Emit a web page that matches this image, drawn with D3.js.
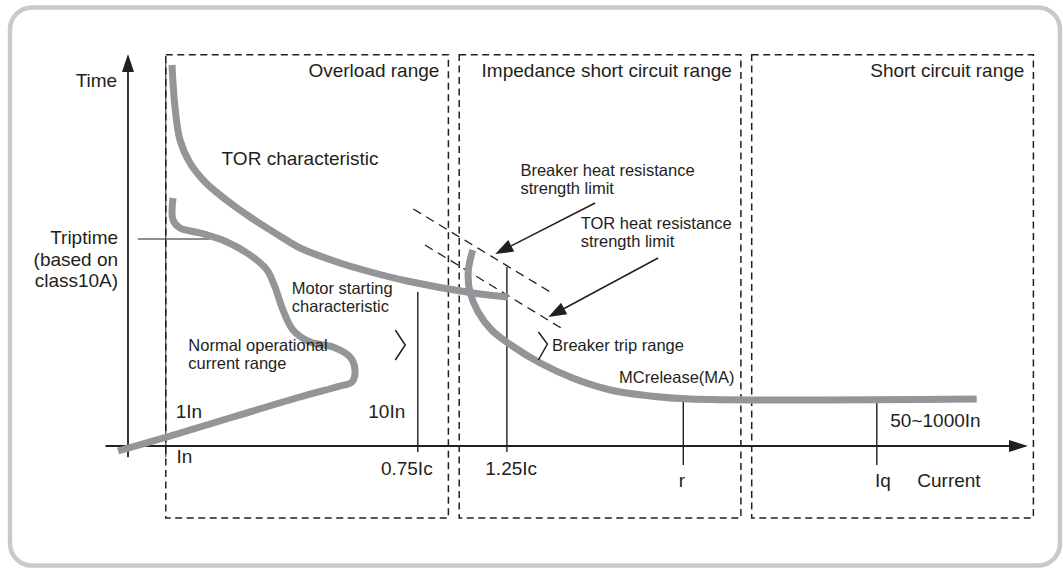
<!DOCTYPE html>
<html>
<head>
<meta charset="utf-8">
<title>TOR / breaker characteristic</title>
<script src="https://d3js.org/d3.v7.min.js"></script>
<style>
  body { margin: 0; background: #fff; }
  svg { display: block; font-family: "Liberation Sans", Arial, Helvetica, sans-serif; }
</style>
</head>
<body>
<div id="chart"></div>
<script>
// schematic units: current 0..100 along x, time 0..100 along y

const rangeNames = ["Overload range", "Impedance short circuit range", "Short circuit range"];
const rangeStart = [4.2, 36.8, 69.3];
const rangeEnd = [35.6, 68.1, 100.6];
const rangeTop = 97.8;
const rangeBottom = -18;

const tickNames = ["In", "0.75Ic", "1.25Ic", "r", "Iq"];
const tickAt = [4.2, 32.2, 42.1, 61.7, 83.2];
const tickTop = [96, 38.5, 44.75, 12.75, 11.75];
const tickBottom = [-2.8, -1.5, -1.5, -4.75, -4.75];

const tripTime = 51.75;
const tripTimeFrom = [1.1, 9.1];

const torCurve = [[4.89, 95.25], [5.22, 84.75], [5.78, 76.5], [6.89, 70.75], [8.56, 66], [10.78, 61.75],
  [13.56, 57.25], [17.22, 52], [19.11, 49.5], [23.22, 46], [26.56, 43.75], [31.0, 41.25],
  [38.33, 38.25], [42.22, 37.25]];
const motorCurve = [[5.0, 62], [5.0, 56.5], [5.78, 54.5], [8.0, 53.25], [11.0, 51], [13.56, 47.75],
  [15.44, 44], [16.33, 39.75], [17.22, 34], [18.33, 29], [20.22, 26], [22.78, 24.75],
  [24.67, 22.25], [25.22, 19], [24.89, 16], [23.56, 15], [19.11, 12.25], [11.67, 7.25],
  [4.33, 2.25], [-1.11, -1.25]];
const mcCurve = [[38.3, 49], [37.8, 43.5], [38.0, 38.5], [38.9, 33.5], [40.4, 29], [42.7, 25],
  [45.8, 20.75], [49.4, 17], [53.6, 14], [58.0, 12.5], [62.4, 11.75], [94.3, 11.75]];

const limitLines = [[[31.7, 59.25], [47.1, 38.25]], [[33.0, 50.25], [48.3, 29.25]]];
const limitArrows = [[[51.9, 60.75], [40.8, 48]], [[58.9, 47], [46.7, 32.25]]];
const chevrons = [[[29.7, 29], [30.8, 25.25], [29.7, 21.5]], [[45.6, 28.5], [46.6, 25.5], [45.6, 21.5]]];

const bigLabels = [
  ["Time", -1.2, 89.75, "end"],
  ["TOR characteristic", 10.4, 70.25, "start"],
  ["Triptime\n(based on\nclass10A)", -1.1, 50.5, "end"],
  ["1In", 5.3, 7, "start"],
  ["10In", 26.7, 7, "start"],
  ["In", 5.4, -4.25, "start"],
  ["0.75Ic", 28.1, -7.25, "start"],
  ["1.25Ic", 39.7, -7.25, "start"],
  ["r", 61.2, -10.25, "start"],
  ["Iq", 83, -10.25, "start"],
  ["Current", 87.7, -10.25, "start"],
  ["50~1000In", 84.7, 4.75, "start"]
];
const smallLabels = [
  ["Motor starting\ncharacteristic", 18.2, 38, "start"],
  ["Normal operational\ncurrent range", 6.7, 23.75, "start"],
  ["Breaker heat resistance\nstrength limit", 43.6, 67.5, "start"],
  ["TOR heat resistance\nstrength limit", 50.3, 54.25, "start"],
  ["Breaker trip range", 47.1, 23.75, "start"],
  ["MCrelease(MA)", 67.4, 15.75, "end"]
];

const W = 1063, H = 569;
const x = d3.scaleLinear().domain([0, 100]).range([128, 1028]);
const y = d3.scaleLinear().domain([0, 100]).range([446, 46]);
const ink = "#231f20";
const grey = "#939598";

const svg = d3.select("#chart").append("svg")
  .attr("width", W).attr("height", H);

// frame
svg.append("rect")
  .attr("x", 10).attr("y", 7.5).attr("width", 1050).attr("height", 558)
  .attr("rx", 22).attr("fill", "#fff")
  .attr("stroke", "#c9c9c9").attr("stroke-width", 4.5);

// range boxes
svg.selectAll("rect.range")
  .data(rangeNames)
  .join("rect")
    .attr("class", "range")
    .attr("x", (d, i) => x(rangeStart[i]))
    .attr("y", y(rangeTop))
    .attr("width", (d, i) => x(rangeEnd[i]) - x(rangeStart[i]))
    .attr("height", y(rangeBottom) - y(rangeTop))
    .attr("fill", "none").attr("stroke", ink)
    .attr("stroke-width", 1.5).attr("stroke-dasharray", "7,4.5");

svg.selectAll("text.range")
  .data(rangeNames)
  .join("text")
    .attr("class", "range")
    .attr("x", (d, i) => x(rangeEnd[i]) - 9)
    .attr("y", y(92.25))
    .attr("text-anchor", "end")
    .attr("font-size", 19).attr("fill", ink)
    .text(d => d);

// axes
svg.append("line")
  .attr("x1", x(0)).attr("x2", x(0)).attr("y1", y(-2.8)).attr("y2", y(95))
  .attr("stroke", ink).attr("stroke-width", 1.8);
svg.append("path")
  .attr("d", `M${x(0)},${y(98)}L${x(0) - 6},${y(98) + 18}L${x(0) + 6},${y(98) + 18}Z`)
  .attr("fill", ink);
svg.append("line")
  .attr("x1", x(-2.5)).attr("x2", x(98)).attr("y1", y(0)).attr("y2", y(0))
  .attr("stroke", ink).attr("stroke-width", 1.8);
svg.append("path")
  .attr("d", `M${x(100)},${y(0)}L${x(100) - 19},${y(0) - 6}L${x(100) - 19},${y(0) + 6}Z`)
  .attr("fill", ink);

// ticks
svg.selectAll("line.tick")
  .data(tickNames)
  .join("line")
    .attr("class", "tick")
    .attr("x1", (d, i) => x(tickAt[i])).attr("x2", (d, i) => x(tickAt[i]))
    .attr("y1", (d, i) => y(tickTop[i])).attr("y2", (d, i) => y(tickBottom[i]))
    .attr("stroke", ink).attr("stroke-width", (d, i) => i === 0 ? 1 : 1.4);

svg.append("line")
  .attr("x1", x(tripTimeFrom[0])).attr("x2", x(tripTimeFrom[1]))
  .attr("y1", y(tripTime)).attr("y2", y(tripTime))
  .attr("stroke", ink).attr("stroke-width", 1.2);

// heat resistance limits
svg.selectAll("line.limit")
  .data(limitLines)
  .join("line")
    .attr("class", "limit")
    .attr("x1", d => x(d[0][0])).attr("y1", d => y(d[0][1]))
    .attr("x2", d => x(d[1][0])).attr("y2", d => y(d[1][1]))
    .attr("stroke", ink).attr("stroke-width", 1.3).attr("stroke-dasharray", "9,6");

// grey characteristic curves
const line = d3.line()
  .x(d => x(d[0])).y(d => y(d[1]))
  .curve(d3.curveCatmullRom.alpha(0.5));

svg.selectAll("path.curve")
  .data([torCurve, motorCurve, mcCurve])
  .join("path")
    .attr("class", "curve")
    .attr("d", line)
    .attr("fill", "none").attr("stroke", grey)
    .attr("stroke-width", 7);

// annotation arrows
limitArrows.forEach(a => {
  const x1 = x(a[0][0]), y1 = y(a[0][1]), x2 = x(a[1][0]), y2 = y(a[1][1]);
  const ang = Math.atan2(y2 - y1, x2 - x1);
  const len = 18, hw = 6.5;
  const bx = x2 - len * Math.cos(ang), by = y2 - len * Math.sin(ang);
  svg.append("line")
    .attr("x1", x1).attr("y1", y1).attr("x2", bx).attr("y2", by)
    .attr("stroke", ink).attr("stroke-width", 1.5);
  svg.append("path")
    .attr("d", `M${x2},${y2}L${bx - hw * Math.sin(ang)},${by + hw * Math.cos(ang)}L${bx + hw * Math.sin(ang)},${by - hw * Math.cos(ang)}Z`)
    .attr("fill", ink);
});

svg.selectAll("path.chevron")
  .data(chevrons)
  .join("path")
    .attr("class", "chevron")
    .attr("d", d3.line().x(d => x(d[0])).y(d => y(d[1])))
    .attr("fill", "none").attr("stroke", ink).attr("stroke-width", 1.5);

// labels
function drawLabels(list, size, lh) {
  svg.append("g")
    .selectAll("text")
    .data(list)
    .join("text")
      .attr("x", d => x(d[1]))
      .attr("y", d => y(d[2]))
      .attr("text-anchor", d => d[3])
      .attr("font-size", size).attr("fill", ink)
    .selectAll("tspan")
    .data(d => d[0].split("\n").map(t => [t, d[1]]))
    .join("tspan")
      .attr("x", d => x(d[1]))
      .attr("dy", (d, i) => i === 0 ? 0 : lh)
      .text(d => d[0]);
}
drawLabels(bigLabels, 19, 21.5);
drawLabels(smallLabels, 16.5, 17.5);
</script>
</body>
</html>
